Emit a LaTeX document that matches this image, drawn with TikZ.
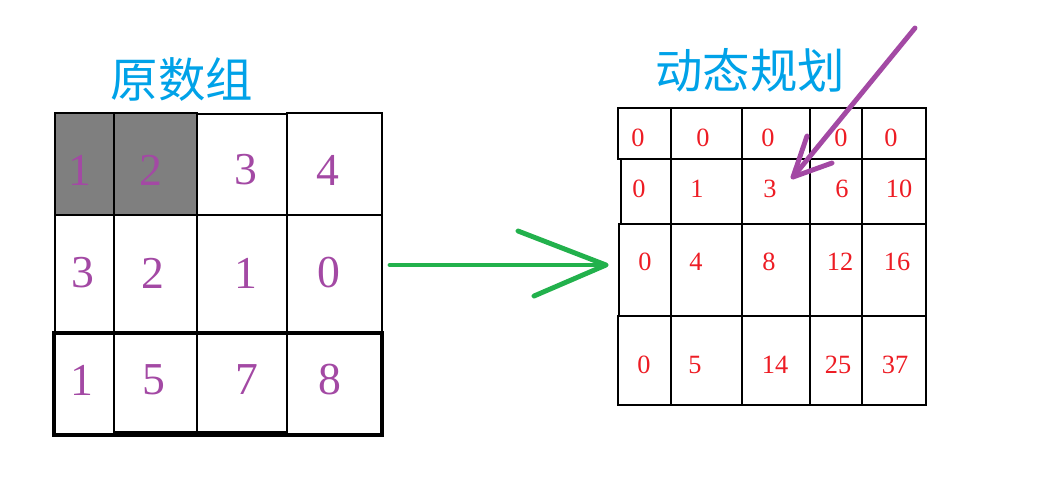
\documentclass[tikz,border=0pt]{standalone}
\usepackage{fontspec}
\setmainfont{Liberation Serif}
\newfontfamily\cjk{Noto Sans CJK SC}
\usetikzlibrary{positioning}
\definecolor{paintblue}{RGB}{0,162,232}
\definecolor{paintpurple}{RGB}{163,73,164}
\definecolor{paintred}{RGB}{237,28,36}
\definecolor{paintgreen}{RGB}{34,177,76}
\definecolor{paintgray}{RGB}{127,127,127}

\begin{document}
\begin{tikzpicture}[
    x=0.02cm, y=-0.02cm,
    gridline/.style={draw=black, line width=0.7pt},
    thickline/.style={draw=black, line width=1.2pt},
    titletext/.style={text=paintblue, font=\cjk\fontsize{27}{30}\selectfont, inner sep=0pt},
    orignum/.style={text=paintpurple, font=\fontsize{26}{28}\selectfont, inner sep=0pt},
    dpnum/.style={text=paintred, font=\fontsize{15}{17}\selectfont, inner sep=0pt},
    greenpen/.style={draw=paintgreen, line width=2.8pt, line cap=round, line join=round},
    purplepen/.style={draw=paintpurple, line width=2.8pt, line cap=round, line join=round}
  ]
    \useasboundingbox (0,0) rectangle (1050,481);

    \node[titletext] (origtitle) at (182,80) {原数组};
    \node[titletext] (dptitle) at (750,70) {动态规划};

    \fill[paintgray] (55,113) rectangle (197,215);
    \draw[gridline] (55,113) rectangle (114,215);
    \draw[gridline] (114,113) rectangle (197,215);
    \draw[gridline] (197,114) rectangle (287,215);
    \draw[gridline] (287,113) rectangle (382,215);
    \draw[gridline] (55,215) rectangle (114,332);
    \draw[gridline] (114,215) rectangle (197,332);
    \draw[gridline] (197,215) rectangle (287,332);
    \draw[gridline] (287,215) rectangle (382,332);
    \draw[gridline] (53,332) rectangle (383,436);
    \draw[gridline] (55,334) rectangle (381,434);
    \draw[gridline] (114,334) rectangle (197,432);
    \draw[gridline] (197,334) rectangle (287,432);
    \draw[thickline] (114,113) -- (197,113) -- (197,432);
    \draw[thickline] (55,113) -- (55,332);
    \draw[thickline] (55,436) -- (383,436);

    \foreach \v/\x in {1/80,2/151,3/246,4/328}
      \node[orignum] (orig-1-\x) at (\x,170) {\v};
    \foreach \v/\x in {3/83,2/153,1/246,0/329}
      \node[orignum] (orig-2-\x) at (\x,273) {\v};
    \foreach \v/\x in {1/82,5/154,7/247,8/330}
      \node[orignum] (orig-3-\x) at (\x,380) {\v};

    \draw[gridline] (618,108) rectangle (926,159);
    \draw[gridline] (621,159) rectangle (926,224);
    \draw[gridline] (619,224) rectangle (926,316);
    \draw[gridline] (618,316) rectangle (926,405);
    \draw[gridline] (671,108) -- (671,405);
    \draw[gridline] (862,108) -- (862,405);
    \draw[thickline] (742,108) -- (742,405);
    \draw[thickline] (810,108) -- (810,405);
    \draw[thickline] (671,108) -- (862,108);
    \draw[thickline] (926,159) -- (926,224);
    \draw[thickline] (926,316) -- (926,405) -- (618,405);

    \foreach \v/\x in {0/638,0/703,0/768,0/841,0/891}
      \node[dpnum] (dp-0-\x) at (\x,138) {\v};
    \foreach \v/\x in {0/639,1/697,3/770,6/842,10/899}
      \node[dpnum] (dp-1-\x) at (\x,189) {\v};
    \foreach \v/\x in {0/645,4/696,8/769,12/840,16/897}
      \node[dpnum] (dp-2-\x) at (\x,262) {\v};
    \foreach \v/\x in {0/644,5/695,14/775,25/838,37/895}
      \node[dpnum] (dp-3-\x) at (\x,365) {\v};

    \coordinate (gtail) at (390,265);
    \coordinate (gtip) at (606,265);
    \coordinate (gupper) at (518,231);
    \coordinate (glower) at (534,296);
    \draw[greenpen] (gtail) -- (gtip);
    \draw[greenpen] (gupper) -- (gtip) -- (glower);

    \coordinate (ptail) at (915,28);
    \coordinate (ptip) at (793,177);
    \coordinate (pleft) at (807,136);
    \coordinate (pright) at (832,163);
    \draw[purplepen] (ptail) -- (ptip);
    \draw[purplepen] (pleft) -- (ptip) -- (pright);
  \end{tikzpicture}
\end{document}
